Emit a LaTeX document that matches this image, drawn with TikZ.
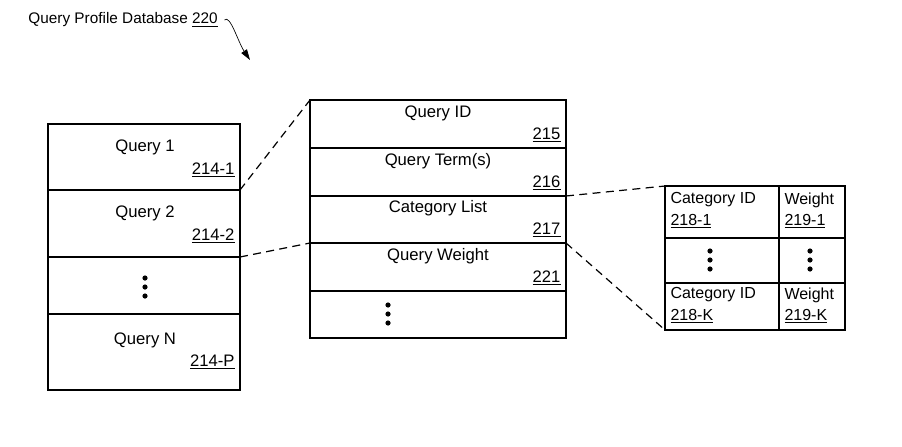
\documentclass[tikz,border=0pt]{standalone}
\usepackage{fontspec}
\setmainfont{Liberation Sans}
\usetikzlibrary{arrows.meta}
\tikzset{every picture/.style={line width=0.75pt}}
\tikzset{
  lbl/.style={inner sep=0.75pt,font=\fontsize{12.5}{14}\selectfont},
  num/.style={lbl,anchor=east},
  sml/.style={lbl,anchor=west,font=\fontsize{12}{14}\selectfont},
  cell/.style={draw,line width=0.9pt},
  link/.style={dash pattern=on 6pt off 4pt,line width=0.9pt}
}
\newcommand{\ul}[1]{\underline{#1}}
% three stacked dots around a named point
\newcommand{\dotcol}[3]{%
  \coordinate (#1) at (#2,#3);
  \foreach \dy in {-9,0,9} \fill (#2,#3+\dy) circle (2.6);
}
\begin{document}
\begin{tikzpicture}[x=0.75pt,y=0.75pt,yscale=-1,xscale=1]
\useasboundingbox (0,0) rectangle (902,446);

% Title
\node (title) [lbl,anchor=west,font=\fontsize{11.5}{13}\selectfont] at (27,20) {Query Profile Database \ul{220}};
\coordinate (ptr) at (250,60);
\draw [-{Triangle[length=8pt,width=5pt]},line width=0.5pt] ([xshift=4]title.east) .. controls (230,14) and (238,42) .. (ptr);

% Left table
\draw [cell] (48,124) rectangle (240,190);
\draw [cell] (48,190) rectangle (240,257);
\draw [cell] (48,257) rectangle (240,314);
\draw [cell] (48,314) rectangle (240,390);
\coordinate (q1b) at (240,190);
\coordinate (q2b) at (240,257);
\node (q1) [lbl] at (145,147) {Query 1};
\node (q1n) [num] at (236,170) {\ul{214-1}};
\node (q2) [lbl] at (145,213) {Query 2};
\node (q2n) [num] at (236,236) {\ul{214-2}};
\dotcol{qd}{145}{287}
\node (qn) [lbl] at (145,340) {Query N};
\node (qnn) [num] at (236,362) {\ul{214-P}};

% Middle table
\draw [cell] (310,100) rectangle (566,148);
\draw [cell] (310,148) rectangle (566,196);
\draw [cell] (310,196) rectangle (566,243);
\draw [cell] (310,243) rectangle (566,291);
\draw [cell] (310,291) rectangle (566,338);
\coordinate (mtl) at (310,100);
\coordinate (mwl) at (310,243);
\coordinate (mcr) at (566,196);
\coordinate (mwr) at (566,243);
\node (qid) [lbl] at (438,113) {Query ID};
\node (qidn) [num] at (562,135) {\ul{215}};
\node (qt) [lbl] at (438,161) {Query Term(s)};
\node (qtn) [num] at (562,183) {\ul{216}};
\node (cl) [lbl] at (438,208) {Category List};
\node (cln) [num] at (562,230) {\ul{217}};
\node (qw) [lbl] at (438,256) {Query Weight};
\node (qwn) [num] at (562,278) {\ul{221}};
\dotcol{md}{388}{314}

% Right table
\draw [cell] (665,186) rectangle (845,330);
\draw [cell] (779,186) -- (779,330);
\draw [cell] (665,238) -- (845,238);
\draw [cell] (665,283) -- (845,283);
\coordinate (rtl) at (665,186);
\coordinate (rbl) at (665,330);
\node (c1) [sml] at (669,200) {Category ID};
\node (c1n) [sml] at (669,221) {\ul{218-1}};
\node (w1) [sml] at (783,200) {Weight};
\node (w1n) [sml] at (783,221) {\ul{219-1}};
\dotcol{cd}{710}{260}
\dotcol{wd}{810}{260}
\node (ck) [sml] at (669,295) {Category ID};
\node (ckn) [sml] at (669,316) {\ul{218-K}};
\node (wk) [sml] at (783,295) {Weight};
\node (wkn) [sml] at (783,316) {\ul{219-K}};

% Expansion links
\draw [link] (q1b) -- (mtl);
\draw [link] (q2b) -- (mwl);
\draw [link] (mcr) -- (rtl);
\draw [link] (mwr) -- (rbl);
\end{tikzpicture}
\end{document}
